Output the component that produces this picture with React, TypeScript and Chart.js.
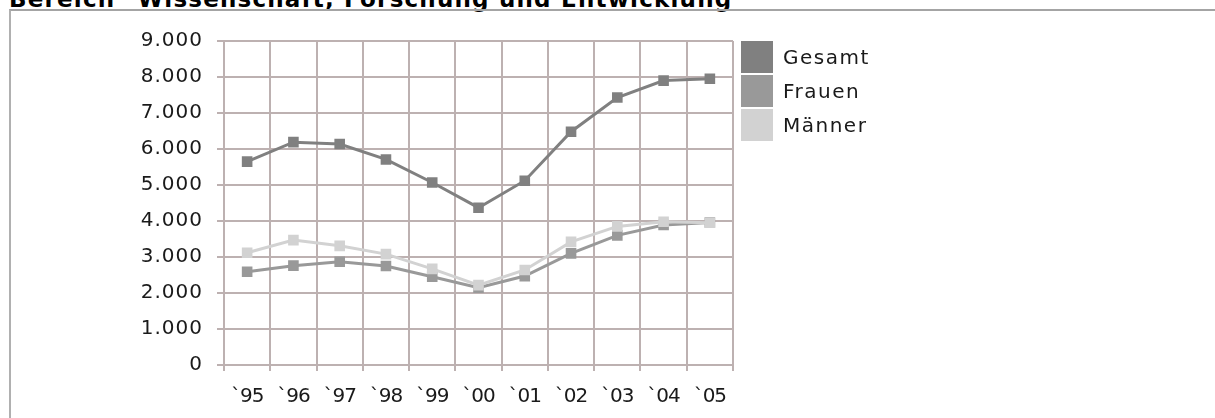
import React, { useEffect, useRef } from "react";
import { Chart, registerables } from "chart.js";

Chart.register(...registerables);

const titleText = 'Bereich "Wissenschaft, Forschung und Entwicklung"';
const years = ["`95", "`96", "`97", "`98", "`99", "`00", "`01", "`02", "`03", "`04", "`05"];
const yTickLabels = ["0", "1.000", "2.000", "3.000", "4.000", "5.000", "6.000", "7.000", "8.000", "9.000"];
const seriesNames = ["Gesamt", "Frauen", "Männer"];
const seriesColors = ["#808080", "#999999", "#d2d2d2"];
const gesamt = [5650, 6190, 6140, 5710, 5070, 4370, 5120, 6480, 7430, 7900, 7950];
const frauen = [2590, 2760, 2870, 2750, 2450, 2150, 2470, 3100, 3600, 3890, 3960];
const maenner = [3120, 3470, 3310, 3080, 2670, 2220, 2640, 3420, 3850, 3980, 3950];

const FONT = "'DejaVu Sans', Verdana, sans-serif";
const GRID = "#bdb1b1";

const spacingPlugin = {
  id: "letterSpacing",
  beforeUpdate(chart: any) {
    chart.ctx.letterSpacing = "1px";
  },
  beforeDraw(chart: any) {
    chart.ctx.letterSpacing = "1px";
    const sx = chart.scales.x;
    if (sx && !sx._spacingPatched) {
      const orig = sx.drawLabels.bind(sx);
      sx.drawLabels = (area: any) => {
        const c = chart.ctx;
        const prev = c.letterSpacing;
        c.letterSpacing = "-1px";
        orig(area);
        c.letterSpacing = prev;
      };
      sx._spacingPatched = true;
    }
  },
};

export default function App() {
  const ref = useRef<HTMLCanvasElement | null>(null);

  useEffect(() => {
    if (!ref.current) return;
    const values = [gesamt, frauen, maenner];
    const order = [0, 2, 1];
    const chart = new Chart(ref.current, {
      type: "line",
      data: {
        labels: years,
        datasets: seriesNames.map((name, i) => ({
          label: name,
          data: values[i],
          order: order[i],
          borderColor: seriesColors[i],
          backgroundColor: seriesColors[i],
          pointBackgroundColor: seriesColors[i],
          pointBorderColor: seriesColors[i],
          borderWidth: 3,
          pointStyle: "rect",
          pointRadius: 7.5,
          pointBorderWidth: 0,
          tension: 0,
          fill: false,
        })),
      },
      options: {
        animation: false,
        responsive: false,
        devicePixelRatio: 1,
        layout: { padding: { top: 41, right: 482, bottom: 0, left: 0 } },
        plugins: {
          legend: { display: false },
          tooltip: { enabled: false },
        },
        scales: {
          x: {
            type: "category",
            offset: true,
            grid: { offset: true, color: GRID, lineWidth: 2, tickLength: 6, drawTicks: true },
            border: { color: GRID, width: 2 },
            ticks: {
              font: { family: FONT, size: 20 },
              color: "#1a1a1a",
              padding: 14,
              maxRotation: 0,
              autoSkip: false,
            },
            afterFit: (s: any) => {
              s.height = 53;
            },
          },
          y: {
            min: 0,
            max: 9000,
            grid: { color: GRID, lineWidth: 2, tickLength: 7, drawTicks: true },
            border: { color: GRID, width: 2 },
            ticks: {
              stepSize: 1000,
              font: { family: FONT, size: 20 },
              color: "#1a1a1a",
              padding: 14,
              callback: (_v: any, i: number) => yTickLabels[i],
            },
            afterFit: (s: any) => {
              s.width = 224;
            },
          },
        },
      },
      plugins: [spacingPlugin],
    });
    return () => chart.destroy();
  }, []);

  return (
    <div
      style={{
        position: "fixed",
        left: 0,
        top: 0,
        width: 1215,
        height: 418,
        overflow: "hidden",
        background: "#fff",
        fontFamily: FONT,
      }}
    >
      <div
        style={{
          position: "absolute",
          left: 9,
          top: -12,
          fontSize: 23,
          lineHeight: "23px",
          fontWeight: "bold",
          whiteSpace: "nowrap",
          letterSpacing: "1.2px",
          color: "#000",
        }}
      >
        {titleText}
      </div>
      <div
        style={{
          position: "absolute",
          left: 9,
          top: 9,
          width: 1206,
          height: 409,
          boxSizing: "border-box",
          borderTop: "2px solid #a4a4a4",
          borderLeft: "2px solid #b0b0b0",
        }}
      />
      <canvas
        ref={ref}
        width={1215}
        height={418}
        style={{ position: "absolute", left: 0, top: 0, width: 1215, height: 418 }}
      />
      {seriesNames.map((name, i) => (
        <div key={name}>
          <div
            style={{
              position: "absolute",
              left: 741,
              top: 41 + i * 34,
              width: 32,
              height: 32,
              background: seriesColors[i],
            }}
          />
          <div
            style={{
              position: "absolute",
              left: 783,
              top: 41 + i * 34,
              height: 32,
              lineHeight: "32px",
              fontSize: 20,
              letterSpacing: "1.5px",
              color: "#1a1a1a",
              whiteSpace: "nowrap",
            }}
          >
            {name}
          </div>
        </div>
      ))}
    </div>
  );
}
